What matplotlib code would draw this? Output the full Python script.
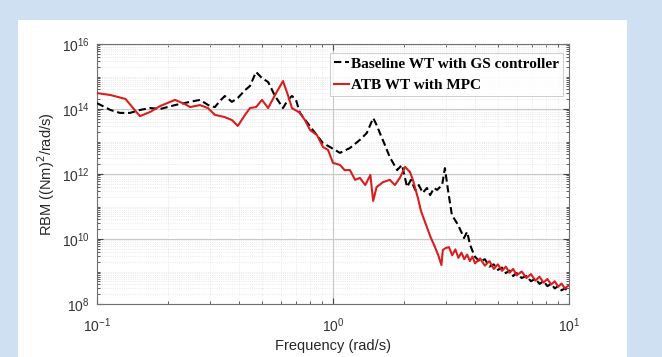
import numpy as np
import matplotlib
matplotlib.use("Agg")
import matplotlib.pyplot as plt
from matplotlib.patches import Rectangle
from matplotlib.ticker import LogLocator, NullFormatter

# baseline WT with GS controller (freq in rad/s, log10 of RBM PSD)
freq_base = [0.100, 0.114, 0.125, 0.138, 0.152, 0.168, 0.185, 0.214, 0.248, 0.273,
             0.301, 0.316, 0.332, 0.348, 0.373, 0.395, 0.424, 0.445, 0.472, 0.500,
             0.531, 0.568, 0.614, 0.644, 0.670, 0.697, 0.724, 0.822, 0.907, 0.971,
             1.07, 1.18, 1.30, 1.39, 1.48, 1.53, 1.58, 1.66, 1.74, 1.87,
             1.96, 2.06, 2.14, 2.23, 2.31, 2.40, 2.50, 2.58, 2.68, 2.76,
             2.90, 2.98, 3.07, 3.19, 3.39, 3.59, 3.70, 3.81, 3.96,
             4.0, 4.2, 4.4, 4.6, 4.8, 5.0, 5.2, 5.4, 5.6, 5.8, 6.0, 6.3, 6.6,
             6.9, 7.2, 7.5, 7.8, 8.1, 8.4, 8.7, 9.0, 9.3, 9.6, 10.0]
log_base = [14.18, 13.97, 13.88, 13.88, 13.97, 14.03, 14.00, 14.12, 14.22, 14.28,
            14.09, 14.06, 14.25, 14.40, 14.22, 14.34, 14.58, 14.71, 15.14, 14.95,
            14.83, 14.40, 14.03, 14.28, 14.40, 14.28, 13.88, 13.35, 12.95, 12.83,
            12.65, 12.80, 13.05, 13.26, 13.72, 13.51, 13.26, 12.89, 12.52, 12.12,
            12.28, 11.60, 11.82, 11.51, 11.66, 11.42, 11.57, 11.35, 11.57, 11.51,
            11.66, 12.18, 11.51, 10.74, 10.43, 10.03, 10.22, 9.82, 9.51,
            9.45, 9.30, 9.38, 9.15, 9.22, 9.05, 9.12, 8.95, 9.03, 8.86, 8.95, 8.80, 8.86,
            8.70, 8.78, 8.62, 8.70, 8.55, 8.62, 8.48, 8.55, 8.42, 8.48, 8.38]

# ATB WT with MPC
freq_atb = [0.100, 0.114, 0.132, 0.152, 0.168, 0.185, 0.214, 0.236, 0.248, 0.273,
            0.295, 0.316, 0.348, 0.373, 0.395, 0.424, 0.445, 0.472, 0.500, 0.531,
            0.568, 0.614, 0.644, 0.670, 0.724, 0.760, 0.800, 0.855, 0.907, 0.953,
            1.00, 1.07, 1.12, 1.18, 1.24, 1.30, 1.37, 1.44, 1.48, 1.53,
            1.63, 1.74, 1.83, 1.92, 2.02, 2.12, 2.18, 2.29, 2.36, 2.48,
            2.60, 2.68, 2.79, 2.88, 2.92, 3.0,
            3.1, 3.2, 3.3, 3.4, 3.5, 3.6, 3.7, 3.8, 3.9, 4.0, 4.2, 4.4, 4.6, 4.8,
            5.0, 5.2, 5.4, 5.6, 5.8, 6.0, 6.3, 6.6, 6.9, 7.2, 7.5, 7.8, 8.1, 8.4,
            8.7, 9.0, 9.3, 9.6, 10.0]
log_atb = [14.49, 14.43, 14.31, 13.78, 13.91, 14.09, 14.28, 14.15, 14.06, 14.12,
           14.03, 13.82, 13.75, 13.66, 13.48, 13.82, 14.03, 14.06, 14.28, 14.03,
           14.43, 14.86, 14.43, 14.03, 13.88, 13.66, 13.35, 13.20, 12.83, 12.74,
           12.34, 12.28, 12.12, 12.12, 11.82, 11.88, 11.66, 11.97, 11.17, 11.60,
           11.75, 11.82, 11.66, 11.88, 12.22, 12.06, 11.82, 11.26, 10.86, 10.43,
           10.03, 9.82, 9.51, 9.20, 9.66, 9.72,
           9.75, 9.50, 9.68, 9.42, 9.58, 9.38, 9.52, 9.32, 9.46, 9.25, 9.40, 9.18, 9.32, 9.08,
           9.22, 9.02, 9.15, 8.96, 9.08, 8.88, 9.00, 8.80, 8.92, 8.72, 8.84, 8.66, 8.77, 8.60,
           8.70, 8.53, 8.63, 8.48, 8.58]

plt.rcParams["font.family"] = ["Liberation Sans", "DejaVu Sans"]
plt.rcParams["axes.unicode_minus"] = False

fig = plt.figure(figsize=(6.62, 3.57), dpi=100, facecolor="#cfe0f2")
# white panel behind the plot
fig.add_artist(Rectangle((18 / 662, 0), (627 - 18) / 662, 1 - 20 / 357,
                         transform=fig.transFigure, facecolor="white",
                         edgecolor="none", zorder=-10))

ax = fig.add_axes([97 / 662, 1 - 304 / 357, (569 - 97) / 662, (304 - 44) / 357])

ax.plot(freq_base, np.power(10.0, log_base), color="black", ls=(0, (3.5, 1.8)),
        lw=1.5, label="Baseline WT with GS controller", zorder=3)
ax.plot(freq_atb, np.power(10.0, log_atb), color="#d81e1e", lw=1.5,
        label="ATB WT with MPC", zorder=4)

ax.set_xscale("log")
ax.set_yscale("log")
ax.set_xlim(0.1, 10)
ax.set_ylim(1e8, 1e16)
ax.set_yticks([1e8, 1e10, 1e12, 1e14, 1e16])
ax.yaxis.set_minor_locator(LogLocator(base=10, subs=np.arange(1, 10), numticks=50))
ax.yaxis.set_minor_formatter(NullFormatter())
ax.xaxis.set_minor_locator(LogLocator(base=10, subs=np.arange(2, 10), numticks=50))
ax.xaxis.set_minor_formatter(NullFormatter())

ax.grid(True, which="major", color="#c8c8c8", lw=0.8)
ax.grid(True, which="minor", color="#e2e2e2", lw=0.6, ls=":")
ax.set_axisbelow(True)

ax.tick_params(which="both", direction="in", top=True, right=True, colors="#404040",
               labelcolor="#333333")
ax.tick_params(which="major", length=4, labelsize=10)
ax.tick_params(which="minor", length=2)
ax.tick_params(axis="x", pad=9)
ax.tick_params(axis="y", pad=5)
for s in ax.spines.values():
    s.set_color("#707070")
    s.set_linewidth(0.8)

ax.set_xlabel("Frequency (rad/s)", fontsize=10.5, color="#262626", labelpad=3)
ax.set_ylabel("RBM ((Nm)$^2$/rad/s)", fontsize=10.5, color="#262626")
ax.yaxis.set_label_coords(-0.085, 0.5)

leg = ax.legend(loc="upper right", bbox_to_anchor=(0.987, 0.965),
                prop={"family": "Liberation Serif", "weight": "bold", "size": 11},
                frameon=True, fancybox=False, handlelength=1.0, handletextpad=0.12,
                borderpad=0.25, labelspacing=0.5, borderaxespad=0.0)
leg.get_frame().set_edgecolor("#b8b8b8")
leg.get_frame().set_linewidth(0.6)

fig.savefig("out.png", dpi=100, facecolor=fig.get_facecolor())
